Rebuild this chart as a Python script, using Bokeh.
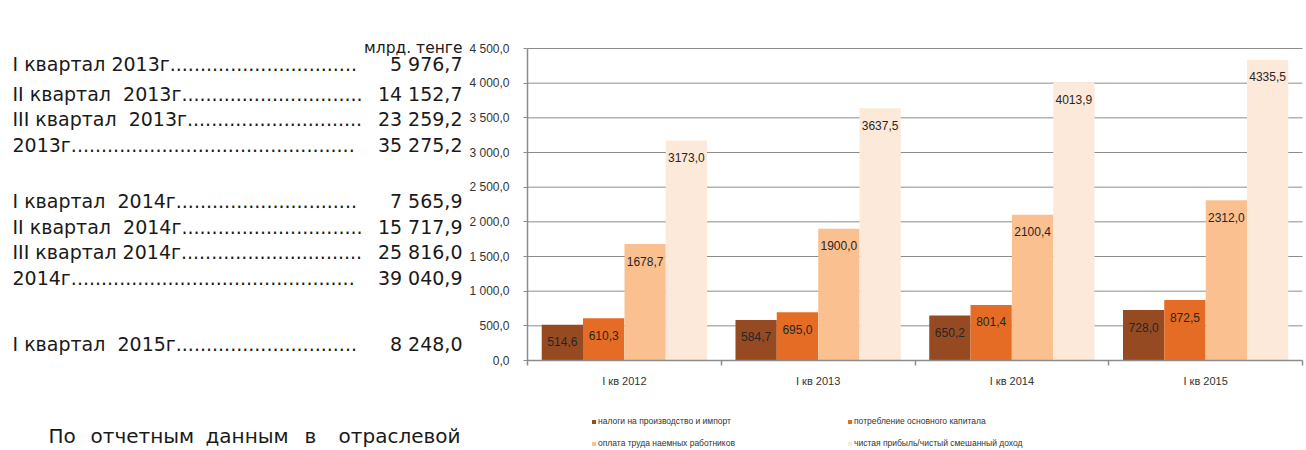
from bokeh.plotting import figure
from bokeh.models import (Range1d, FixedTicker, Legend, LegendItem, ColumnDataSource,
                          LinearAxis)
from bokeh.embed import file_html
from bokeh.resources import INLINE
from bokeh.core.properties import value

# ---------------- data ----------------
quarters = ["I кв 2012", "I кв 2013", "I кв 2014", "I кв 2015"]
series_names = [
    "налоги на производство и импорт",
    "потребление основного капитала",
    "оплата труда наемных работников",
    "чистая прибыль/чистый смешанный доход",
]
taxes = [514.6, 584.7, 650.2, 728.0]
capital = [610.3, 695.0, 801.4, 872.5]
wages = [1678.7, 1900.0, 2100.4, 2312.0]
profit = [3173.0, 3637.5, 4013.9, 4335.5]
y_ticks = [0, 500, 1000, 1500, 2000, 2500, 3000, 3500, 4000, 4500]

unit_label = "млрд. тенге"
NB = "\u00a0"
periods = ["I квартал 2013г", "II квартал" + NB + " 2013г", "III квартал" + NB + " 2013г", "2013г",
           "I квартал" + NB + " 2014г", "II квартал" + NB + " 2014г", "III квартал 2014г", "2014г",
           "I квартал" + NB + " 2015г"]
period_dots = [31, 30, 29, 47, 30, 30, 30, 47, 30]
gdp_values = [5976.7, 14152.7, 23259.2, 35275.2, 7565.9, 15717.9, 25816.0, 39040.9, 8248.0]
paragraph_words = ["По", "отчетным", "данным", "в", "отраслевой"]

# ---------------- style / layout ----------------
colors = ["#954A22", "#E46C24", "#FAC090", "#FDE9D9"]
offsets = [-0.32, -0.107, 0.107, 0.32]
bar_w = 0.213
GRID = "#8c8c8c"
TXT = "#333333"
CHART_FONT = "Liberation Sans"
LEFT_FONT = "DejaVu Sans"

W, H = 1306, 450
FRAME_L, FRAME_R, FRAME_T, FRAME_B = 527, 1302, 48, 360
YMAX = y_ticks[-1]
NCAT = len(quarters)

xpp = NCAT / (FRAME_R - FRAME_L)
ypp = YMAX / (FRAME_B - FRAME_T)
x_range = Range1d(-FRAME_L * xpp, NCAT + (W - FRAME_R) * xpp)
y_range = Range1d(-(H - FRAME_B) * ypp, YMAX + FRAME_T * ypp)


def fmt_dec(v):
    return f"{v:.1f}".replace(".", ",")


def fmt_thou(v):
    return f"{v:,.1f}".replace(",", " ").replace(".", ",")


p = figure(width=W, height=H, output_backend="svg", toolbar_location=None,
           x_range=x_range, y_range=y_range, x_axis_type=None, y_axis_type=None,
           min_border=0)
p.outline_line_color = None
p.extra_x_ranges = {"px": Range1d(0, W)}
p.extra_y_ranges = {"px": Range1d(H, 0)}

# ---------------- left text block ----------------
line_y = [63, 93, 118, 144, 200, 226, 251, 277, 343]
labels = [s + "." * n for s, n in zip(periods, period_dots)]
common = dict(x_range_name="px", y_range_name="px", text_baseline="middle",
              text_font=value(LEFT_FONT), text_color="#1a1a1a")
p.text(x=[12] * len(labels), y=line_y, text=labels, text_align="left",
       text_font_size="19px", **common)
p.text(x=[462] * len(gdp_values), y=line_y, text=[fmt_thou(v) for v in gdp_values],
       text_align="right", text_font_size="19px", **common)
p.text(x=[462], y=[47], text=[unit_label], text_align="right", text_font_size="15.5px",
       **common)
word_x = [48, 90, 205, 304, 460]
word_align = ["left", "left", "left", "left", "right"]
p.text(x=word_x, y=[435] * len(paragraph_words), text=paragraph_words,
       text_align=word_align, text_font_size="20px", **common)

# ---------------- chart ----------------
p.segment(x0=[0] * len(y_ticks), x1=[NCAT] * len(y_ticks), y0=y_ticks, y1=y_ticks,
          line_color=GRID, line_width=1)

renderers = []
for vals, col, off in zip([taxes, capital, wages, profit], colors, offsets):
    xs = [i + 0.5 + off for i in range(NCAT)]
    src = ColumnDataSource(dict(x=xs, top=vals, lab=[fmt_dec(v) for v in vals]))
    r = p.vbar(x="x", top="top", width=bar_w, fill_color=col, line_color=None, source=src)
    renderers.append(r)
    p.text(x="x", y="top", text="lab", source=src, text_align="center",
           text_baseline="middle", y_offset=17, text_font=value(CHART_FONT),
           text_font_size="12px", text_color="#262626")

yaxis = LinearAxis(fixed_location=0, bounds=(0, YMAX), ticker=FixedTicker(ticks=y_ticks))
yaxis.major_label_overrides = {t: fmt_thou(t) for t in y_ticks}
yaxis.axis_line_color = GRID
yaxis.axis_line_width = 1.5
yaxis.major_tick_line_color = GRID
yaxis.major_tick_out = 4
yaxis.major_tick_in = 0
yaxis.minor_tick_line_color = None
yaxis.major_label_standoff = 14
yaxis.major_label_text_font = CHART_FONT
yaxis.major_label_text_font_size = "12px"
yaxis.major_label_text_color = TXT
p.add_layout(yaxis, "left")

centers = [i + 0.5 for i in range(NCAT)]
xaxis = LinearAxis(fixed_location=0, bounds=(0, NCAT),
                   ticker=FixedTicker(ticks=centers, minor_ticks=list(range(NCAT + 1))))
xaxis.major_label_overrides = {c: q for c, q in zip(centers, quarters)}
xaxis.axis_line_color = GRID
xaxis.axis_line_width = 1.5
xaxis.major_tick_line_color = None
xaxis.major_tick_out = 0
xaxis.major_tick_in = 0
xaxis.minor_tick_line_color = GRID
xaxis.minor_tick_line_width = 1.5
xaxis.minor_tick_out = 5
xaxis.minor_tick_in = 0
xaxis.major_label_standoff = 9
xaxis.major_label_text_font = CHART_FONT
xaxis.major_label_text_font_size = "11px"
xaxis.major_label_text_color = TXT
p.add_layout(xaxis, "below")

legend_cols = [[0, 2], [1, 3]]
legend_x = [591, 847]
for idxs, lx in zip(legend_cols, legend_x):
    lg = Legend(items=[LegendItem(label=series_names[i], renderers=[renderers[i]]) for i in idxs],
                location=(lx, 1), orientation="vertical",
                glyph_width=5, glyph_height=5, label_standoff=2, spacing=10,
                label_height=12, padding=0, margin=0, border_line_color=None,
                background_fill_alpha=0, label_text_font=CHART_FONT,
                label_text_font_size="8.5px", label_text_color=TXT)
    p.add_layout(lg, "center")

open("out.html", "w").write(file_html(p, INLINE))
